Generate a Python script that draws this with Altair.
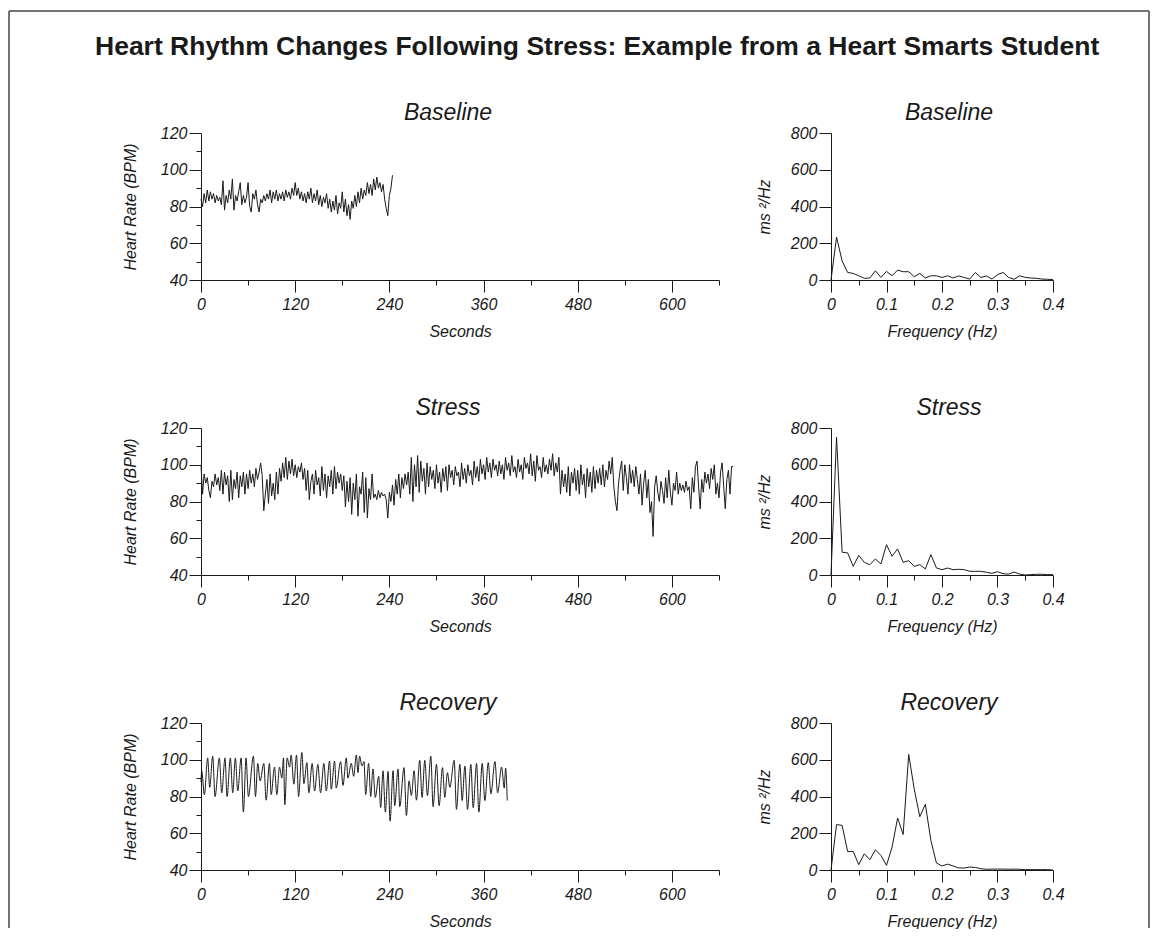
import altair as alt
import pandas as pd

TITLE = "Heart Rhythm Changes Following Stress: Example from a Heart Smarts Student"
PHASES = ["Baseline", "Stress", "Recovery"]
SAMPLE_STEP_S = 2  # heart-rate samples every 2 s for baseline and stress

BASELINE_HR = [
    84, 80, 87, 82, 89, 83, 88, 84, 87, 82,
    86, 83, 85, 81, 94, 78, 86, 82, 89, 84,
    95, 78, 86, 83, 88, 93, 81, 86, 82, 85,
    93, 80, 77, 87, 84, 89, 81, 77, 84, 82,
    86, 83, 87, 84, 89, 82, 88, 84, 89, 83,
    87, 84, 88, 83, 89, 85, 88, 84, 90, 86,
    93, 86, 90, 84, 88, 83, 87, 82, 88, 84,
    90, 82, 87, 83, 89, 81, 86, 80, 85, 82,
    87, 79, 84, 77, 83, 78, 86, 76, 82, 79,
    88, 77, 84, 75, 81, 73, 83, 79, 86, 80,
    88, 82, 90, 84, 89, 86, 93, 87, 92, 86,
    95, 89, 96, 90, 93, 88, 92, 84, 79, 75,
    86, 90, 97,
]

STRESS_HR = [
    100, 84, 95, 90, 93, 86, 82, 91, 88, 95,
    89, 93, 86, 97, 84, 96, 89, 94, 80, 97,
    81, 92, 87, 96, 82, 94, 88, 96, 84, 95,
    87, 97, 90, 95, 88, 98, 92, 96, 101, 94,
    75, 84, 92, 79, 95, 83, 90, 81, 96, 84,
    98, 91, 101, 93, 104, 92, 102, 95, 103, 94,
    100, 93, 99, 96, 101, 92, 98, 86, 97, 81,
    91, 95, 84, 97, 89, 93, 83, 99, 86, 95,
    82, 94, 88, 97, 84, 99, 87, 96, 90, 95,
    86, 94, 77, 91, 80, 93, 73, 90, 81, 95,
    72, 88, 84, 96, 74, 93, 71, 87, 81, 95,
    82, 84, 81, 86, 82, 85, 83, 84, 81, 71,
    85, 80, 89, 78, 92, 84, 95, 82, 93, 87,
    95, 89, 96, 84, 104, 80, 100, 88, 105, 85,
    102, 91, 98, 84, 101, 88, 99, 92, 97, 87,
    100, 90, 96, 85, 98, 91, 99, 86, 100, 93,
    97, 89, 99, 94, 96, 88, 101, 92, 98, 90,
    100, 94, 97, 89, 102, 93, 99, 91, 103, 95,
    100, 92, 104, 96, 101, 93, 103, 97, 100, 94,
    102, 95, 100, 92, 104, 97, 101, 94, 105, 96,
    99, 93, 103, 96, 100, 92, 104, 98, 101, 95,
    106, 94, 102, 91, 105, 97, 99, 93, 104, 96,
    100, 95, 103, 97, 106, 94, 101, 96, 104, 84,
    97, 88, 95, 85, 99, 83, 96, 90, 98, 86,
    97, 84, 100, 89, 95, 82, 98, 88, 96, 85,
    99, 87, 97, 90, 98, 89, 100, 88, 97, 92,
    102, 95, 104, 88, 80, 75, 90, 97, 102, 86,
    100, 93, 84, 100, 90, 97, 88, 99, 92, 84,
    95, 78, 90, 97, 82, 92, 74, 80, 61, 88,
    94, 85, 80, 91, 86, 79, 93, 82, 97, 85,
    78, 90, 86, 96, 84, 90, 86, 89, 85, 91,
    86, 88, 76, 93, 85, 99, 102, 88, 76, 92,
    85, 96, 90, 95, 87, 98, 92, 100, 84, 90,
    82, 96, 101, 88, 76, 92, 97, 84, 99, 99,
]

RECOVERY_T = [
    0, 0.9, 4.3, 8.5, 11.1, 14.9, 17.9, 23.4, 26.4, 30.6,
    33.2, 37.4, 40.4, 43.8, 46.8, 51.1, 54.0, 57.4, 60.4, 66.8,
    69.4, 72.3, 75.3, 80.0, 83.0, 87.2, 89.4, 93.6, 96.6, 100.0,
    103.0, 105.1, 106.8, 109.8, 112.8, 114.9, 118.3, 121.7, 124.3, 128.5,
    131.1, 134.9, 137.4, 141.7, 144.7, 148.9, 152.3, 156.6, 159.6, 163.8,
    166.0, 170.2, 172.3, 177.9, 180.9, 185.1, 187.2, 191.5, 194.5, 197.9,
    200.0, 202.1, 205.1, 207.7, 209.8, 213.6, 216.2, 219.1, 222.1, 226.4,
    228.9, 231.9, 234.9, 238.3, 240.9, 244.7, 246.8, 251.1, 253.2, 258.7,
    261.7, 265.1, 268.1, 271.5, 274.5, 278.7, 281.7, 285.1, 288.5, 292.8,
    295.7, 300.0, 303.4, 307.7, 310.6, 314.0, 317.0, 322.6, 325.5, 329.8,
    332.8, 336.2, 339.6, 343.8, 346.8, 351.1, 354.0, 358.3, 361.7, 366.0,
    369.4, 374.5, 377.9, 383.0, 386.4, 388.1, 390.2,
]
RECOVERY_HR = [
    88, 94, 81, 101, 85, 102, 80, 101, 82, 101,
    80, 101, 82, 101, 83, 101, 71.5, 101, 80, 102,
    80, 98, 88.5, 98, 78, 98, 81, 96, 81, 96,
    90, 101, 75.6, 101, 96, 102.6, 86.7, 102.6, 80, 104,
    87, 98.4, 82, 98, 83, 97.5, 82, 98, 83, 99.3,
    84, 99.3, 84.6, 99, 86, 101, 90, 98, 91, 102.6,
    93, 102, 96.6, 99, 81, 98, 80, 95, 79.5, 91,
    74, 94, 71.5, 93.6, 66.6, 94, 75, 95, 74.5, 95.7,
    69.7, 88.5, 80.5, 94, 78, 99.7, 79.5, 99.7, 80.5, 102,
    74.5, 97.5, 75, 95.7, 79.5, 93, 85, 99.7, 73, 97.5,
    77.8, 96.6, 73, 97.5, 74, 98, 71.5, 98, 77.8, 98.4,
    81.4, 99, 82, 96, 84.6, 95.4, 77.8,
]

FREQ_HZ = [
    0.00, 0.01, 0.02, 0.03, 0.04, 0.05, 0.06, 0.07, 0.08, 0.09,
    0.10, 0.11, 0.12, 0.13, 0.14, 0.15, 0.16, 0.17, 0.18, 0.19,
    0.20, 0.21, 0.22, 0.23, 0.24, 0.25, 0.26, 0.27, 0.28, 0.29,
    0.30, 0.31, 0.32, 0.33, 0.34, 0.35, 0.36, 0.37, 0.38, 0.39,
    0.40,
]
BASELINE_PSD = [
    0, 234, 104, 41, 36, 23, 9, 11, 50, 14,
    47, 23, 54, 45, 45, 18, 36, 11, 23, 23,
    14, 23, 11, 22, 14, 5, 41, 14, 22, 5,
    29, 41, 14, 4, 23, 14, 11, 9, 5, 4,
    2,
]
STRESS_PSD = [
    0, 750, 124, 120, 47, 107, 69, 56, 87, 60,
    165, 102, 142, 69, 78, 47, 56, 33, 111, 38,
    29, 38, 29, 31, 29, 20, 20, 20, 15, 9,
    18, 7, 5, 16, 5, 0, 2, 4, 4, 2,
    2,
]
RECOVERY_PSD = [
    0, 247, 243, 101, 101, 29, 88, 56, 110, 79,
    25, 124, 283, 193, 629, 440, 290, 358, 160, 38,
    22, 32, 22, 11, 11, 16, 14, 7, 4, 5,
    5, 5, 4, 5, 4, 2, 2, 2, 2, 2,
    0,
]

HR_X_TICKS = [0, 60, 120, 180, 240, 300, 360, 420, 480, 540, 600, 660]
HR_Y_TICKS = [40, 50, 60, 70, 80, 90, 100, 110, 120]
FREQ_TICKS = [0, 0.05, 0.1, 0.15, 0.2, 0.25, 0.3, 0.35, 0.4]
PSD_TICKS = [0, 200, 400, 600, 800]

FONT = "Liberation Sans, Arial, Helvetica, sans-serif"
TITLE_FONT = "Liberation Sans, Arial, Helvetica, sans-serif"
INK = "#1a1a1a"
FRAME_INK = "#444444"
LEFT_W, RIGHT_W, PANEL_H = 518, 222, 147
PANEL_TITLE_SIZE = 23


def make_axis(**kw):
    base = dict(
        labelFont=FONT, labelFontSize=16, labelFontStyle="italic", labelColor=INK,
        titleFont=FONT, titleFontSize=16, titleFontStyle="italic",
        titleFontWeight="normal", titleColor=INK,
        domainColor=INK, tickColor=INK, domainWidth=1, tickWidth=1, grid=False,
        labelOverlap=False, labelFlush=False, labelBound=False, labelPadding=4,
    )
    base.update(kw)
    return alt.Axis(**base)


def tick_size(test, major=12, minor=5):
    return {"condition": {"test": test, "value": major}, "value": minor}


MAJ_HR_X = "datum.value % 120 === 0"
MAJ_HR_Y = "datum.value % 20 === 0"
MAJ_FREQ = "abs(datum.value * 10 - round(datum.value * 10)) < 0.001"

hr_x_axis = make_axis(
    title="Seconds", values=HR_X_TICKS,
    labelExpr=f"{MAJ_HR_X} ? format(datum.value, 'd') : ''",
    tickSize=tick_size(MAJ_HR_X), titlePadding=11,
)
hr_y_axis = make_axis(
    title="Heart Rate (BPM)", values=HR_Y_TICKS,
    labelExpr=f"{MAJ_HR_Y} ? format(datum.value, 'd') : ''",
    tickSize=tick_size(MAJ_HR_Y), titlePadding=22, labelPadding=2,
)
fr_x_axis = make_axis(
    title="Frequency (Hz)", values=FREQ_TICKS,
    labelExpr=f"{MAJ_FREQ} ? (datum.value === 0 ? '0' : format(datum.value, '.1f')) : ''",
    tickSize=tick_size(MAJ_FREQ), titlePadding=11,
)
psd_y_axis = make_axis(
    title="ms \u00b2/Hz", values=PSD_TICKS, format="d",
    tickSize=12, titlePadding=18, labelPadding=2,
)


def cell_title(text, dx):
    return alt.TitleParams(
        text=text, font=FONT, fontSize=PANEL_TITLE_SIZE, fontStyle="italic",
        fontWeight="normal", color=INK, anchor="middle", frame="group", offset=-18,
        baseline="alphabetic", dx=dx,
    )


def hr_chart(df, title, interp="linear"):
    return alt.Chart(df).mark_line(color=INK, strokeWidth=1, interpolate=interp).encode(
        x=alt.X("t:Q", scale=alt.Scale(domain=[0, 660], nice=False, zero=False), axis=hr_x_axis),
        y=alt.Y("hr:Q", scale=alt.Scale(domain=[40, 120], nice=False, zero=False), axis=hr_y_axis),
    ).properties(width=LEFT_W, height=PANEL_H, title=cell_title(title, -12))


def psd_line(values):
    df = pd.DataFrame({"f": FREQ_HZ, "p": values})
    return alt.Chart(df).mark_line(color=INK, strokeWidth=1).encode(
        x=alt.X("f:Q", scale=alt.Scale(domain=[0, 0.4], nice=False, zero=False), axis=fr_x_axis),
        y=alt.Y("p:Q", scale=alt.Scale(domain=[0, 800], nice=False), axis=psd_y_axis),
    )


def psd_chart(values, title):
    return psd_line(values).properties(
        width=RIGHT_W, height=PANEL_H, title=cell_title(title, 7))


base_df = pd.DataFrame({"t": [i * SAMPLE_STEP_S for i in range(len(BASELINE_HR))], "hr": BASELINE_HR})
stress_df = pd.DataFrame({"t": [i * SAMPLE_STEP_S for i in range(len(STRESS_HR))], "hr": STRESS_HR})
rec_df = pd.DataFrame({"t": RECOVERY_T, "hr": RECOVERY_HR})

# The last panel also carries the figure heading and the figure frame
# (positions are relative to that panel's plotting area).
deco = alt.Data(values=[{"k": 0}])
frame_style = dict(color=FRAME_INK, strokeWidth=1.5)
last_panel = alt.layer(
    psd_line(RECOVERY_PSD),
    alt.Chart(deco).mark_text(
        text=PHASES[2], font=FONT, fontSize=PANEL_TITLE_SIZE, fontStyle="italic",
        align="center", baseline="alphabetic", color=INK,
    ).encode(x=alt.value(118), y=alt.value(-13)),
    alt.Chart(deco).mark_text(
        text=TITLE, font=TITLE_FONT, fontSize=26.5, fontWeight="bold",
        align="left", baseline="alphabetic", color=INK,
    ).encode(x=alt.value(-736), y=alt.value(-668)),
    alt.Chart(deco).mark_rule(**frame_style).encode(
        x=alt.value(-822), x2=alt.value(318), y=alt.value(-712)),
    alt.Chart(deco).mark_rule(**frame_style).encode(
        x=alt.value(-822), y=alt.value(-712), y2=alt.value(205)),
    alt.Chart(deco).mark_rule(**frame_style).encode(
        x=alt.value(318), y=alt.value(-712), y2=alt.value(205)),
).properties(width=RIGHT_W, height=PANEL_H)

cells = [
    hr_chart(base_df, PHASES[0]), psd_chart(BASELINE_PSD, PHASES[0]),
    hr_chart(stress_df, PHASES[1]), psd_chart(STRESS_PSD, PHASES[1]),
    hr_chart(rec_df, PHASES[2], interp="monotone"), last_panel,
]

chart = alt.concat(
    *cells, columns=2, spacing={"row": 148, "column": 112}, bounds="flush"
).properties(
    padding={"left": 0, "top": 2, "right": 0, "bottom": 0},
).configure_view(stroke=None)

chart.save("out.html", embed_options={"renderer": "svg", "actions": False})
